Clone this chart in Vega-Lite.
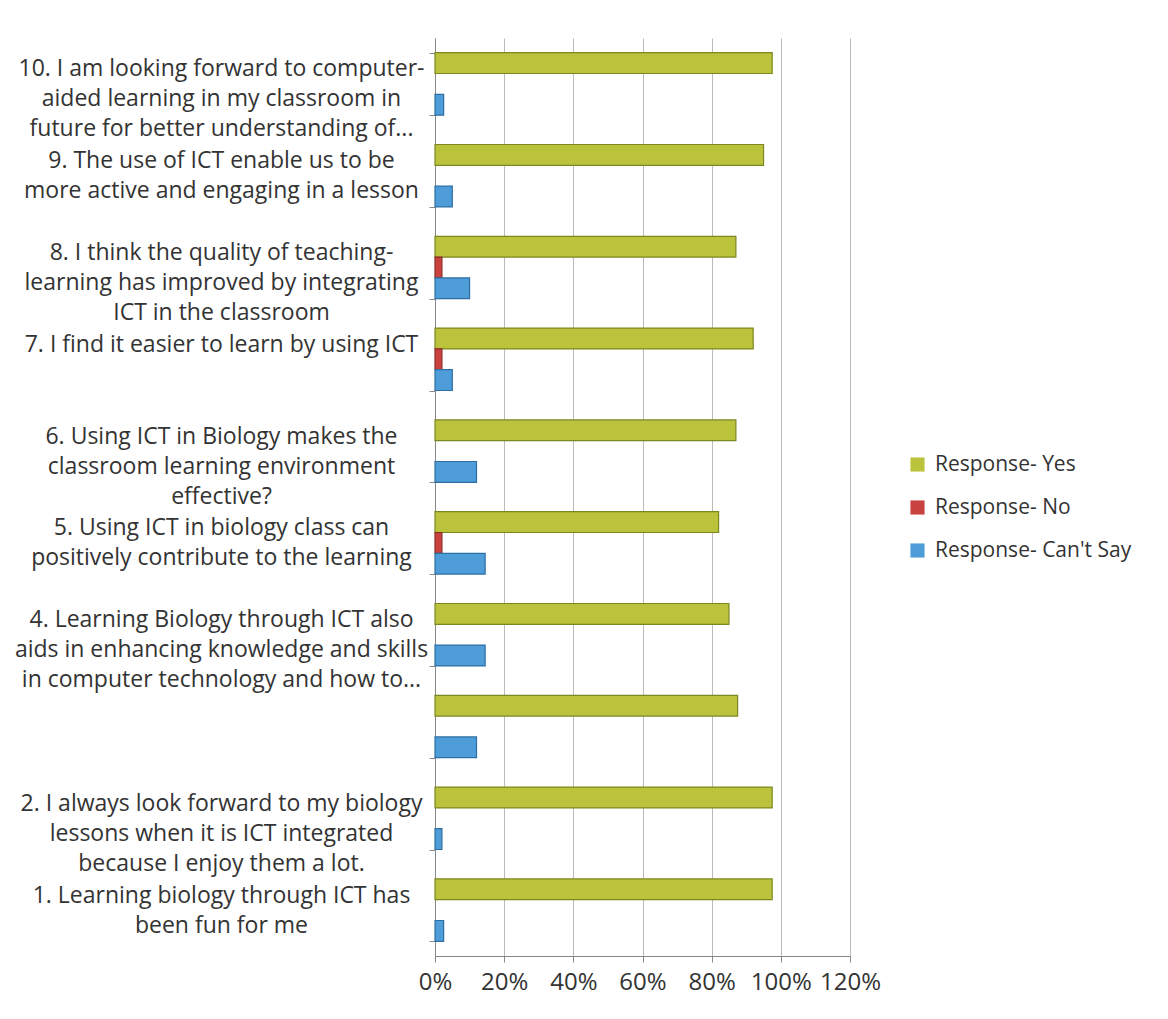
{
  "$schema": "https://vega.github.io/schema/vega-lite/v6.json",
  "width": 415,
  "height": 918,
  "autosize": {"type": "none"},
  "padding": {"left": 435, "top": 38, "right": 318, "bottom": 63},
  "background": "white",
  "data": {
    "values": [
      {"q": 10, "label": "10. I am looking forward to computer-|aided learning in my classroom in|future for better understanding of...", "series": "Response- Yes", "value": 0.975},
      {"q": 10, "label": "10. I am looking forward to computer-|aided learning in my classroom in|future for better understanding of...", "series": "Response- No", "value": 0},
      {"q": 10, "label": "10. I am looking forward to computer-|aided learning in my classroom in|future for better understanding of...", "series": "Response- Can't Say", "value": 0.025},
      {"q": 9, "label": "9.  The use of ICT enable us to be|more active and engaging in a lesson", "series": "Response- Yes", "value": 0.95},
      {"q": 9, "label": "9.  The use of ICT enable us to be|more active and engaging in a lesson", "series": "Response- No", "value": 0},
      {"q": 9, "label": "9.  The use of ICT enable us to be|more active and engaging in a lesson", "series": "Response- Can't Say", "value": 0.05},
      {"q": 8, "label": "8. I think the quality of teaching-|learning has improved by integrating|ICT in the classroom", "series": "Response- Yes", "value": 0.87},
      {"q": 8, "label": "8. I think the quality of teaching-|learning has improved by integrating|ICT in the classroom", "series": "Response- No", "value": 0.02},
      {"q": 8, "label": "8. I think the quality of teaching-|learning has improved by integrating|ICT in the classroom", "series": "Response- Can't Say", "value": 0.10},
      {"q": 7, "label": "7.  I find it easier to learn by using ICT", "series": "Response- Yes", "value": 0.92},
      {"q": 7, "label": "7.  I find it easier to learn by using ICT", "series": "Response- No", "value": 0.02},
      {"q": 7, "label": "7.  I find it easier to learn by using ICT", "series": "Response- Can't Say", "value": 0.05},
      {"q": 6, "label": "6. Using ICT in Biology makes the|classroom learning environment|effective?", "series": "Response- Yes", "value": 0.87},
      {"q": 6, "label": "6. Using ICT in Biology makes the|classroom learning environment|effective?", "series": "Response- No", "value": 0},
      {"q": 6, "label": "6. Using ICT in Biology makes the|classroom learning environment|effective?", "series": "Response- Can't Say", "value": 0.12},
      {"q": 5, "label": "5. Using ICT in biology class can|positively contribute to the learning", "series": "Response- Yes", "value": 0.82},
      {"q": 5, "label": "5. Using ICT in biology class can|positively contribute to the learning", "series": "Response- No", "value": 0.02},
      {"q": 5, "label": "5. Using ICT in biology class can|positively contribute to the learning", "series": "Response- Can't Say", "value": 0.145},
      {"q": 4, "label": "4. Learning Biology through ICT also|aids in enhancing knowledge and skills|in computer technology and how to...", "series": "Response- Yes", "value": 0.85},
      {"q": 4, "label": "4. Learning Biology through ICT also|aids in enhancing knowledge and skills|in computer technology and how to...", "series": "Response- No", "value": 0},
      {"q": 4, "label": "4. Learning Biology through ICT also|aids in enhancing knowledge and skills|in computer technology and how to...", "series": "Response- Can't Say", "value": 0.145},
      {"q": 3, "label": " ", "series": "Response- Yes", "value": 0.875},
      {"q": 3, "label": " ", "series": "Response- No", "value": 0},
      {"q": 3, "label": " ", "series": "Response- Can't Say", "value": 0.12},
      {"q": 2, "label": "2. I always look forward to my biology|lessons when it is ICT integrated|because I enjoy them a lot.", "series": "Response- Yes", "value": 0.975},
      {"q": 2, "label": "2. I always look forward to my biology|lessons when it is ICT integrated|because I enjoy them a lot.", "series": "Response- No", "value": 0},
      {"q": 2, "label": "2. I always look forward to my biology|lessons when it is ICT integrated|because I enjoy them a lot.", "series": "Response- Can't Say", "value": 0.02},
      {"q": 1, "label": "1. Learning biology through ICT has|been fun for me", "series": "Response- Yes", "value": 0.975},
      {"q": 1, "label": "1. Learning biology through ICT has|been fun for me", "series": "Response- No", "value": 0},
      {"q": 1, "label": "1. Learning biology through ICT has|been fun for me", "series": "Response- Can't Say", "value": 0.025}
    ]
  },
  "transform": [{"filter": "datum.value > 0"}],
  "mark": {"type": "bar", "strokeWidth": 1.2},
  "encoding": {
    "y": {
      "field": "label",
      "type": "nominal",
      "sort": {"field": "q", "op": "min", "order": "descending"},
      "scale": {"paddingInner": 0.32, "paddingOuter": 0.16},
      "axis": {
        "title": null,
        "tickBand": "extent",
        "labelExpr": "split(datum.label, '|')",
        "labelAlign": "center",
        "labelBaseline": "middle",
        "labelPadding": 208,
        "labelLineHeight": 30,
        "labelOffset": -15,
        "labelFont": "Open Sans",
        "labelFontSize": 23,
        "labelColor": "#333333",
        "labelLimit": 0,
        "tickSize": 6,
        "tickColor": "#888888",
        "domainColor": "#888888",
        "grid": false
      }
    },
    "yOffset": {
      "field": "series",
      "type": "nominal",
      "sort": ["Response- Yes", "Response- No", "Response- Can't Say"],
      "scale": {"domain": ["Response- Yes", "Response- No", "Response- Can't Say"]}
    },
    "x": {
      "field": "value",
      "type": "quantitative",
      "scale": {"domain": [0, 1.2]},
      "axis": {
        "title": null,
        "format": ".0%",
        "values": [0, 0.2, 0.4, 0.6, 0.8, 1.0, 1.2],
        "labelFont": "Open Sans",
        "labelFontSize": 24,
        "labelColor": "#333333",
        "labelPadding": 8,
        "tickSize": 6,
        "tickColor": "#888888",
        "domainColor": "#888888",
        "grid": true,
        "gridColor": "#BBBBBB",
        "labelFlush": false
      }
    },
    "color": {
      "field": "series",
      "type": "nominal",
      "scale": {
        "domain": ["Response- Yes", "Response- No", "Response- Can't Say"],
        "range": ["#BAC33B", "#C8433F", "#4F9DD8"]
      },
      "legend": {
        "title": null,
        "orient": "none",
        "legendX": 472,
        "legendY": 416,
        "symbolType": "square",
        "symbolSize": 200,
        "symbolStrokeWidth": 0,
        "labelFont": "Open Sans",
        "labelFontSize": 21,
        "labelColor": "#333333",
        "labelLimit": 0,
        "rowPadding": 21,
        "labelOffset": 7
      }
    },
    "stroke": {
      "field": "series",
      "type": "nominal",
      "scale": {
        "domain": ["Response- Yes", "Response- No", "Response- Can't Say"],
        "range": ["#7D8721", "#8E2A27", "#2E6EA3"]
      },
      "legend": null
    }
  },
  "config": {
    "view": {"stroke": null}
  }
}
